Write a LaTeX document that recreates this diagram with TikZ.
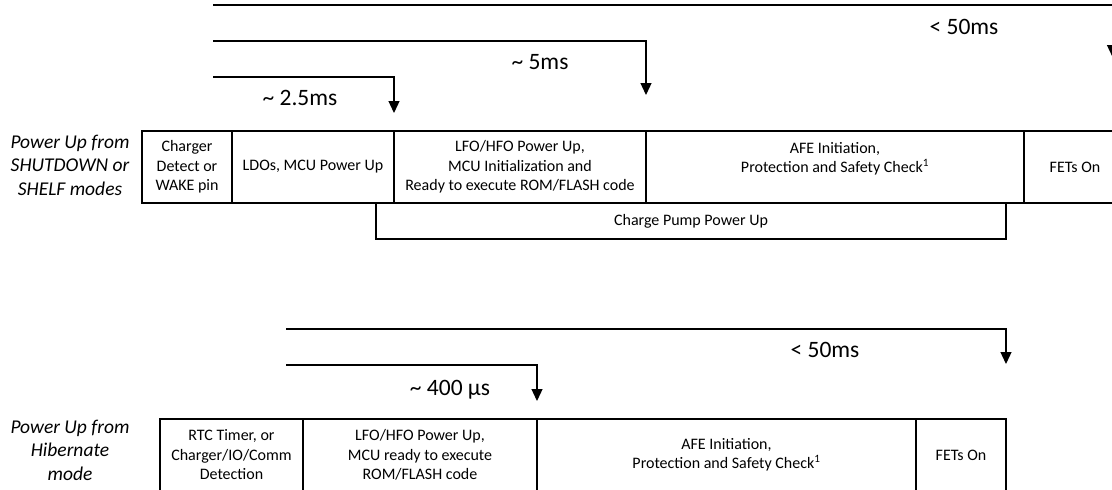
\documentclass[tikz,border=0pt]{standalone}
\usepackage{fontspec}
\setmainfont{Carlito}
\usetikzlibrary{arrows.meta}
\begin{document}
\begin{tikzpicture}[x=1pt,y=-1pt,
  box/.style={draw,line width=1.3pt,inner sep=0pt,align=center,font=\fontsize{16}{19.5}\selectfont},
  txt/.style={inner sep=0pt,align=center,font=\fontsize{16}{19.5}\selectfont},
  lbl/.style={inner sep=0pt,align=center,font=\fontsize{19.5}{23.5}\selectfont\itshape},
  tlbl/.style={inner sep=0pt,text height=15pt,text depth=0pt,font=\fontsize{23.5}{28}\selectfont},
  arr/.style={line width=1.3pt,-{Triangle[width=11pt,length=12pt]}}]
\useasboundingbox (0,0) rectangle (1112,490);
\clip (0,0) rectangle (1112,490);
% ---------- top: SHUTDOWN / SHELF ----------
\node[lbl] (lt) at (70,165) {Power Up from\\SHUTDOWN or\\SHELF modes};
\node[box,minimum width=90pt,minimum height=72pt] (b1) at (187,167) {Charger\\Detect or\\WAKE pin};
\node[box,minimum width=162pt,minimum height=72pt] (b2) at (313,167) {LDOs, MCU Power Up};
\node[box,minimum width=252pt,minimum height=72pt] (b3) at (520,167) {LFO/HFO Power Up,\\MCU Initialization and\\Ready to execute ROM/FLASH code};
\node[box,minimum width=378pt,minimum height=72pt] (b4) at (835,167) {};
\node[txt] (b4t) at (835,159) {AFE Initiation,\\Protection and Safety Check\textsuperscript{1}};
\node[box,minimum width=102pt,minimum height=72pt] (b5) at (1075,167) {FETs On};
\node[box,minimum width=630pt,minimum height=36pt] (cp) at (691,221) {Charge Pump Power Up};
% arrows
\coordinate (a1s) at (213,5);   \coordinate (a1e) at (1112.5,57);
\coordinate (a2s) at (213,41);  \coordinate (a2e) at (646,95);
\coordinate (a3s) at (213,77);  \coordinate (a3e) at (394,113);
\draw[arr] (a1s) -| (a1e);
\draw[arr] (a2s) -| (a2e);
\draw[arr] (a3s) -| (a3e);
\node[tlbl] (t1) at (964,27) {< 50ms};
\node[tlbl] (t2) at (540,62) {\textasciitilde{} 5ms};
\node[tlbl] (t3) at (300,98) {\textasciitilde{} 2.5ms};
% ---------- bottom: Hibernate ----------
\node[lbl] (lb) at (70,450) {Power Up from\\Hibernate\\mode};
\node[box,minimum width=143pt,minimum height=72pt] (c1) at (231.5,455) {RTC Timer, or\\Charger/IO/Comm\\Detection};
\node[box,minimum width=234pt,minimum height=72pt] (c2) at (420,455) {LFO/HFO Power Up,\\MCU ready to execute\\ROM/FLASH code};
\node[box,minimum width=379pt,minimum height=72pt] (c3) at (726.5,455) {AFE Initiation,\\Protection and Safety Check\textsuperscript{1}};
\node[box,minimum width=90pt,minimum height=72pt] (c4) at (961,455) {FETs On};
\coordinate (b1s) at (286,329); \coordinate (b1e) at (1006,364);
\coordinate (b2s) at (286,365); \coordinate (b2e) at (537,401);
\draw[arr] (b1s) -| (b1e);
\draw[arr] (b2s) -| (b2e);
\node[tlbl] (t4) at (825,350) {< 50ms};
\node[tlbl] (t5) at (450,388) {\textasciitilde{} 400 µs};
\end{tikzpicture}
\end{document}
